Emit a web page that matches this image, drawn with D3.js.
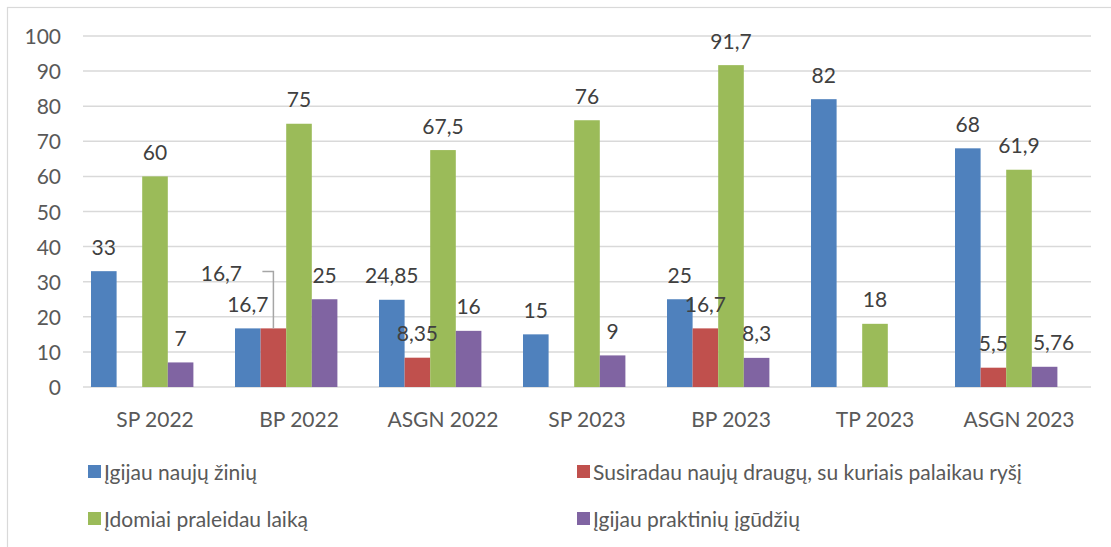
<!DOCTYPE html>
<html>
<head>
<meta charset="utf-8">
<script src="https://cdn.jsdelivr.net/npm/d3@7"></script>
<style>
    body { margin: 0; background: #fff; }
    svg text { font-family: Lato, "Open Sans", sans-serif; }
</style>
</head>
<body>
<svg id="chart" width="1111" height="547"></svg>
<script>
// values
const categories = ['SP 2022', 'BP 2022', 'ASGN 2022', 'SP 2023', 'BP 2023', 'TP 2023', 'ASGN 2023'];
const seriesNames = [
    'Įgijau naujų žinių',
    'Susiradau naujų draugų, su kuriais palaikau ryšį',
    'Įdomiai praleidau laiką',
    'Įgijau praktinių įgūdžių'
];
const naujuZiniu = [33, 16.7, 24.85, 15, 25, 82, 68];
const nauguDraugu = [null, 16.7, 8.35, null, 16.7, null, 5.5];
const idomiaiLaika = [60, 75, 67.5, 76, 91.7, 18, 61.9];
const praktiniuIgudziu = [7, 25, 16, 9, 8.3, null, 5.76];
const yTicks = [0, 10, 20, 30, 40, 50, 60, 70, 80, 90, 100];
const colors = ['#4f81bd', '#c0504d', '#9bbb59', '#8064a2'];

// labels that were dragged away from the bar in the original ([series, category]: [dx, dy])
const labelShift = {
    '1-1': [-52, -31],
    '3-6': [9, 0]
};

const svg = d3.select('#chart');
const margin = {left: 83, right: 1091, top: 36, bottom: 387};

svg.append('rect')
    .attr('x', 7.5)
    .attr('y', 7.5)
    .attr('width', 1300)
    .attr('height', 700)
    .attr('fill', 'none')
    .attr('stroke', '#d9d9d9')
    .attr('stroke-width', 1.2);

const seriesValues = [naujuZiniu, nauguDraugu, idomiaiLaika, praktiniuIgudziu];
let data = [];
categories.forEach((c, ci) => {
    seriesValues.forEach((vals, si) => {
        if (vals[ci] != null) data.push({cat: c, ci, si, value: vals[ci]});
    });
});

const x0 = d3.scaleBand().domain(categories).range([margin.left, margin.right]);
// five slots per group in the original layout, the last one stays empty
const x1 = d3.scaleBand().domain([0, 1, 2, 3, 4]).range([8, x0.bandwidth() - 8]);
const y = d3.scaleLinear().domain([0, 100]).range([margin.bottom, margin.top]);

// grid
const grid = svg.append('g').attr('class', 'grid');
grid.selectAll('line').data(yTicks)
    .join('line')
    .attr('x1', margin.left)
    .attr('x2', margin.right)
    .attr('y1', d => y(d))
    .attr('y2', d => y(d))
    .style('stroke', '#d9d9d9')
    .style('stroke-width', 1.5);

const yAxis = svg.append('g')
    .attr('transform', `translate(${margin.left - 22},0)`)
    .call(d3.axisLeft(y).tickValues(yTicks).tickSize(0).tickPadding(0));
yAxis.select('.domain').remove();
yAxis.selectAll('text')
    .attr('fill', '#595959')
    .style('font-size', '21px')
    .attr('dy', '0.36em');

const xAxis = svg.append('g')
    .attr('transform', `translate(0,${margin.bottom})`)
    .call(d3.axisBottom(x0).tickSize(0).tickPadding(0));
xAxis.select('.domain').remove();
xAxis.selectAll('text')
    .attr('fill', '#595959')
    .style('font-size', '21px')
    .attr('y', 32)
    .attr('dy', '0.36em');

// bars
const bars = svg.append('g').attr('class', 'bars');
bars.selectAll('rect').data(data)
    .join('rect')
    .attr('x', d => x0(d.cat) + x1(d.si))
    .attr('width', x1.bandwidth())
    .attr('y', d => y(d.value))
    .attr('height', d => y(0) - y(d.value))
    .attr('fill', d => colors[d.si]);

// labels
const fmt = v => String(v).replace('.', ',');
const labelPos = d => {
    const bx = x0(d.cat) + x1(d.si) + x1.bandwidth() / 2;
    const by = y(d.value);
    const s = labelShift[d.si + '-' + d.ci] || [0, 0];
    return {bx, by, lx: bx + s[0], ly: by - 24 + s[1], moved: s[0] !== 0 && Math.abs(s[1]) > 10};
};

const labels = svg.append('g').attr('class', 'labels');
labels.selectAll('path').data(data.filter(d => labelPos(d).moved))
    .join('path')
    .attr('d', d => {
        const p = labelPos(d);
        return `M${p.bx - 11},${p.ly - 2}H${p.bx}V${p.by}`;
    })
    .attr('fill', 'none')
    .attr('stroke', '#a6a6a6')
    .attr('stroke-width', 1.5);
labels.selectAll('text').data(data)
    .join('text')
    .attr('x', d => labelPos(d).lx)
    .attr('y', d => labelPos(d).ly)
    .attr('dy', '0.36em')
    .attr('text-anchor', 'middle')
    .attr('fill', '#404040')
    .style('font-size', '21px')
    .text(d => fmt(d.value));

// legend
const legend = svg.append('g').attr('class', 'legend');
const legendCols = [88, 577];
const legendRows = [472, 519];
const items = legend.selectAll('g').data(seriesNames)
    .join('g')
    .attr('transform', (d, i) => `translate(${legendCols[i % 2]},${legendRows[Math.floor(i / 2)]})`);
items.append('rect')
    .attr('x', 0)
    .attr('y', -7)
    .attr('width', 13)
    .attr('height', 13)
    .attr('fill', (d, i) => colors[i]);
items.append('text')
    .attr('x', 16)
    .attr('dy', '0.36em')
    .attr('fill', '#595959')
    .style('font-size', '21px')
    .text(d => d);
</script>
</body>
</html>
